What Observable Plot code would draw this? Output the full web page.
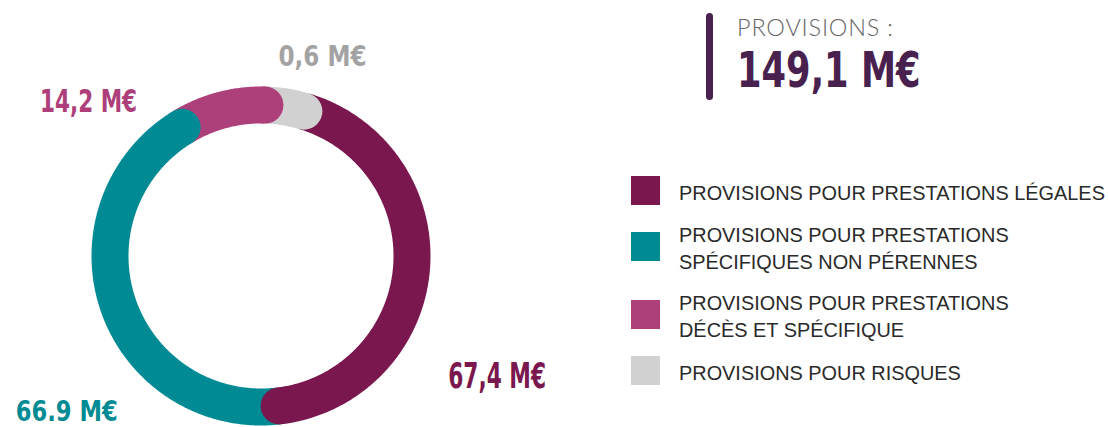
<!DOCTYPE html>
<html>
<head>
<meta charset="utf-8">
<script src="https://cdn.jsdelivr.net/npm/d3@7"></script>
<script src="https://cdn.jsdelivr.net/npm/@observablehq/plot@0.6"></script>
<style>
  html, body { margin: 0; padding: 0; background: #fff; }
  #wrap { position: relative; width: 1108px; height: 427px; overflow: hidden; }
  #chart { position: absolute; left: 0; top: 0; }
  #bar { position: absolute; left: 706px; top: 13px; width: 7px; height: 87px; border-radius: 4px; background: #48214f; }
  #t1 { position: absolute; left: 737px; top: 16px; font: 300 23.5px "Lato", "Open Sans", sans-serif; color: #666; letter-spacing: 0.8px; line-height: 1; white-space: nowrap; }
  #t2 { position: absolute; left: 737px; top: 46px; font: bold 49px "DejaVu Sans", sans-serif; color: #48214f; line-height: 1; white-space: nowrap; transform: scaleX(0.72); transform-origin: 0 0; }
  #legend { position: absolute; left: 631px; top: 178.75px; display: flex; flex-direction: column; gap: 14.3px; }
  .row { display: flex; align-items: center; }
  .sw { width: 29px; height: 29px; margin-right: 19px; position: relative; top: -3px; flex: none; }
  .lab { font: 19.9px "Liberation Sans", Arial, sans-serif; color: #2a2a2a; line-height: 27px; white-space: pre; }
</style>
</head>
<body>
<div id="wrap">
  <div id="chart"></div>
  <div id="bar"></div>
  <div id="t1"></div>
  <div id="t2"></div>
  <div id="legend"></div>
</div>
<script>
// ---- data ----
const categories = [
  "PROVISIONS POUR PRESTATIONS LÉGALES",
  "PROVISIONS POUR PRESTATIONS\nSPÉCIFIQUES NON PÉRENNES",
  "PROVISIONS POUR PRESTATIONS\nDÉCÈS ET SPÉCIFIQUE",
  "PROVISIONS POUR RISQUES"
];
const values = [67.4, 66.9, 14.2, 0.6];
const valueLabels = ["67,4 M€", "66.9 M€", "14,2 M€", "0,6 M€"];
const titleText = "PROVISIONS :";
const totalText = "149,1 M€";

// ---- style / layout ----
const colors = ["#7a174e", "#008b94", "#ad3f7a", "#d1d1d1"];
const labelColors = ["#7a174e", "#008b94", "#ad3f7a", "#a3a3a3"];
const labelAngle = [117, 231.3, 311.7, 17.2];   // degrees clockwise from 12 o'clock
const labelRadius = [265, 249, 231, 208];
const labelSize = [35.5, 28, 31.5, 28.5];
const labelWidth = [98, 102, 97, 88];
const W = 1108, H = 427, CX = 260.5, CY = 255.5;
const R = 151, THICK = 37;
const START_DEG = 16.5, MIN_DEG = 15;

// ---- angles from values (tiny slices get a minimum visible angle) ----
const total = d3.sum(values);
const isSmall = values.map(v => v / total * 360 < MIN_DEG);
const fixedDeg = d3.sum(isSmall, s => s ? MIN_DEG : 0);
const bigSum = d3.sum(values.filter((v, i) => !isSmall[i]));
const spans = values.map((v, i) => isSmall[i] ? MIN_DEG : v / bigSum * (360 - fixedDeg));
const starts = [];
let acc = START_DEG;
for (const s of spans) { starts.push(acc); acc += s; }

const rad = d => d * Math.PI / 180;
const arcPts = [];
categories.forEach((c, i) => {
  const a0 = starts[i], a1 = starts[i] + spans[i];
  const n = Math.max(2, Math.ceil((a1 - a0) / 0.5));
  for (let k = 0; k <= n; k++) {
    const a = a0 + (a1 - a0) * k / n;
    arcPts.push({cat: c, x: R * Math.sin(rad(a)), y: R * Math.cos(rad(a))});
  }
});
const ends = categories.map((c, i) => {
  const a = starts[i] + spans[i];
  return {cat: c, x: R * Math.sin(rad(a)), y: R * Math.cos(rad(a))};
});
const labels = valueLabels.map((t, i) => ({
  text: t,
  x: labelRadius[i] * Math.sin(rad(labelAngle[i])),
  y: labelRadius[i] * Math.cos(rad(labelAngle[i])),
  color: labelColors[i],
  size: labelSize[i]
}));

const plot = Plot.plot({
  width: W, height: H,
  margin: 0,
  x: {domain: [-CX, W - CX], axis: null},
  y: {domain: [-(H - CY), CY], axis: null},
  color: {domain: categories, range: colors},
  marks: [
    Plot.line(arcPts, {x: "x", y: "y", z: "cat", stroke: "cat", strokeWidth: THICK, strokeLinecap: "butt", strokeLinejoin: "round", curve: "linear"}),
    Plot.dot(ends, {x: "x", y: "y", fill: "cat", r: THICK / 2}),
    Plot.text(labels, {x: "x", y: "y", text: "text", fill: d => d.color, fontSize: d => d.size,
      fontFamily: '"DejaVu Sans", sans-serif', fontWeight: "bold", textAnchor: "middle"})
  ]
});
document.getElementById("chart").appendChild(plot);
// condense the value labels to the reference's narrow lettering
plot.querySelectorAll('g[aria-label="text"] text').forEach((t, i) => {
  t.setAttribute("textLength", labelWidth[i]);
  t.setAttribute("lengthAdjust", "spacingAndGlyphs");
});

document.getElementById("t1").textContent = titleText;
document.getElementById("t2").textContent = totalText;
const leg = document.getElementById("legend");
categories.forEach((c, i) => {
  const row = document.createElement("div"); row.className = "row";
  const sw = document.createElement("div"); sw.className = "sw"; sw.style.background = colors[i];
  const lab = document.createElement("div"); lab.className = "lab"; lab.textContent = c;
  row.appendChild(sw); row.appendChild(lab); leg.appendChild(row);
});
</script>
</body>
</html>
